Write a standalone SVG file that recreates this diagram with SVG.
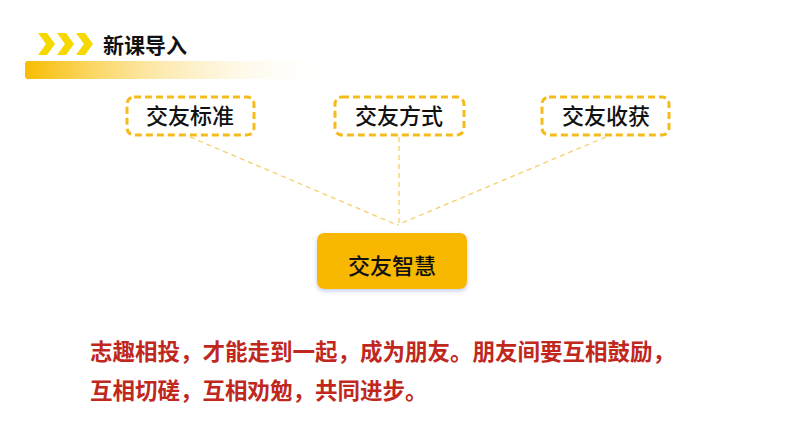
<svg xmlns="http://www.w3.org/2000/svg" width="794" height="447" viewBox="0 0 794 447">
<style>
text{font-family:"Noto Sans CJK SC",sans-serif}
.b{fill:#fff;stroke:#F5BB1C;stroke-width:3;stroke-dasharray:7 4}
.t{font-size:22px;fill:#111;text-anchor:middle;font-weight:500}
.c{fill:none;stroke:#F5CF6A;stroke-width:1.3;stroke-dasharray:5 4}
.r{font-size:22.5px;fill:#C0281E;font-weight:bold}
</style>
<defs>
<linearGradient id="g" x1="0" x2="1"><stop offset="0" stop-color="#F8BC00"/><stop offset="1" stop-color="#FFF" stop-opacity="0"/></linearGradient>
<filter id="s" x="-10%" y="-10%" width="120%" height="130%"><feDropShadow dx="0" dy="2" stdDeviation="2" flood-color="#8899dd" flood-opacity="0.5"/></filter>
</defs>
<g id="header">
<path d="M38 33h9l8 11-8 11h-9l8-11z M57 33h9l8 11-8 11h-9l8-11z M76 33h9l8 11-8 11h-9l8-11z" fill="#F5D800"/>
<text x="103" y="53" font-size="21" fill="#111" font-weight="bold">新课导入</text>
<rect x="25" y="61" width="310" height="18" rx="3" fill="url(#g)"/>
</g>
<g id="connectors">
<path class="c" d="M190 137L397 225M399 137V225M606 137L397 225"/>
</g>
<g id="n1"><rect class="b" x="127" y="97" width="127" height="38" rx="7"/><text class="t" x="190" y="124">交友标准</text></g>
<g id="n2"><rect class="b" x="335" y="97" width="129" height="38" rx="7"/><text class="t" x="399" y="124">交友方式</text></g>
<g id="n3"><rect class="b" x="542" y="97" width="127" height="38" rx="7"/><text class="t" x="606" y="124">交友收获</text></g>
<g id="center"><rect x="317" y="233" width="150" height="56" rx="7" fill="#F8B800" filter="url(#s)"/><text class="t" x="392" y="274" font-size="26">交友智慧</text></g>
<g id="desc">
<text class="r" x="90" y="360">志趣相投，才能走到一起，成为朋友。朋友间要互相鼓励，</text>
<text class="r" x="90" y="399">互相切磋，互相劝勉，共同进步。</text>
</g>
</svg>
